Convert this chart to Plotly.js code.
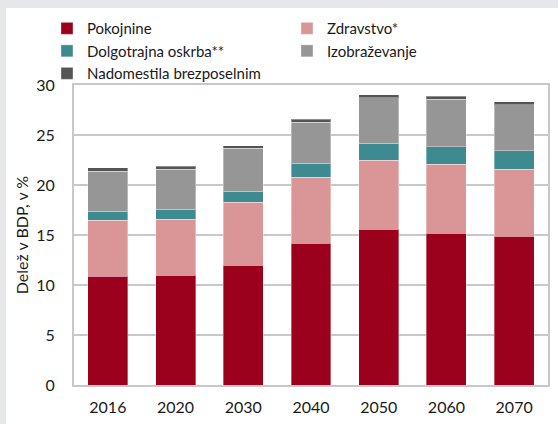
<!DOCTYPE html>
<html><head><meta charset="utf-8">
<script src="https://cdn.plot.ly/plotly-3.0.1.min.js"></script>
<style>
html,body{margin:0;padding:0;background:#e6e7e9;width:558px;height:424px;overflow:hidden}
#panel{position:absolute;left:6px;top:8px;width:552px;height:416px;background:#fff}
#chart{position:absolute;left:0;top:0;width:558px;height:424px}
</style></head><body>
<div id="panel"></div>
<div id="chart"></div>
<script>
const years = ['2016','2020','2030','2040','2050','2060','2070'];
const pokojnine   = [10.9, 11.0, 12.0, 14.2, 15.6, 15.2, 14.9];
const zdravstvo   = [5.6, 5.6, 6.3, 6.6, 6.9, 6.9, 6.7];
const dolgotrajna = [0.9, 1.0, 1.1, 1.4, 1.7, 1.75, 1.85];
const izobrazevanje = [4.0, 4.0, 4.3, 4.1, 4.55, 4.75, 4.6];
const nadomestila = [0.35, 0.3, 0.25, 0.3, 0.27, 0.3, 0.3];
const seriesNames = ['Pokojnine','Zdravstvo*','Dolgotrajna oskrba**','Izobraževanje','Nadomestila brezposelnim'];
const seriesColors = ['#9b001d','#da9696','#3e8a91','#969696','#555555'];
const seriesValues = [pokojnine, zdravstvo, dolgotrajna, izobrazevanje, nadomestila];

const traces = seriesValues.map((v,i)=>({
  type:'bar', x:years, y:v, name:seriesNames[i],
  marker:{color:seriesColors[i], line:{color:'rgba(255,255,255,0.35)', width:1}},
  hoverinfo:'skip'
}));

const font = "Lato, 'Open Sans', sans-serif";
const layout = {
  width:558, height:424,
  margin:{l:74, r:10, t:85, b:39, autoexpand:false},
  paper_bgcolor:'rgba(0,0,0,0)', plot_bgcolor:'#ffffff',
  barmode:'stack', bargap:0.41,
  font:{family:font, size:16, color:'#1a1a1a'},
  showlegend:true,
  legend:{orientation:'h', x:-0.057, xanchor:'left', y:1.243, yanchor:'top',
    entrywidth:195, entrywidthmode:'pixels', traceorder:'normal',
    bgcolor:'rgba(0,0,0,0)',
    font:{family:font, size:15, color:'#1a1a1a'}, itemclick:false, tracegroupgap:0},
  xaxis:{type:'category', showgrid:false, showline:true, linecolor:'#c8c8c8', linewidth:2,
    mirror:true, ticks:'', ticklabelstandoff:7, tickfont:{family:font,size:16}},
  yaxis:{range:[0,30], dtick:5, showgrid:true, gridcolor:'#c8c8c8', gridwidth:1.5,
    showline:true, linecolor:'#c8c8c8', linewidth:2, mirror:true, zeroline:false,
    ticks:'', ticklabelstandoff:14, tickfont:{family:font,size:16},
    title:{text:'Delež v BDP, v %', font:{family:font,size:16}, standoff:4}}
};
Plotly.newPlot('chart', traces, layout, {displayModeBar:false, staticPlot:true});
</script></body></html>
